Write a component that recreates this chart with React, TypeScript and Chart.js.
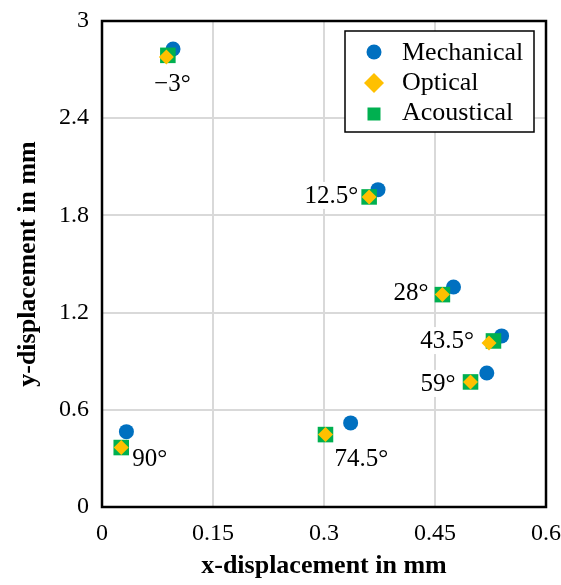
import React, { useEffect, useRef } from 'react';
import { Chart, registerables } from 'chart.js';

Chart.register(...registerables);

// ---- data ----
const angleLabels = ['−3°', '12.5°', '28°', '43.5°', '59°', '74.5°', '90°'];
const mechanicalX = [0.096, 0.373, 0.475, 0.54, 0.52, 0.336, 0.033];
const mechanicalY = [2.827, 1.959, 1.358, 1.056, 0.827, 0.519, 0.465];
const opticalX = [0.087, 0.361, 0.46, 0.523, 0.498, 0.302, 0.026];
const opticalY = [2.778, 1.914, 1.311, 1.012, 0.772, 0.447, 0.367];
const acousticalX = [0.089, 0.361, 0.46, 0.529, 0.498, 0.302, 0.026];
const acousticalY = [2.788, 1.914, 1.311, 1.025, 0.772, 0.447, 0.367];
const xTicks = [0, 0.15, 0.3, 0.45, 0.6];
const yTicks = [0, 0.6, 1.2, 1.8, 2.4, 3];
const seriesNames = ['Mechanical', 'Optical', 'Acoustical'];

// ---- styles / layout ----
const FONT = '"Liberation Serif", "Times New Roman", serif';
const BLUE = '#0070C0';
const YELLOW = '#FFC000';
const GREEN = '#00B050';
const labelPlacement = [
  { dx: 6, dy: 34, align: 'center' },
  { dx: -11, dy: 6, align: 'right' },
  { dx: -14, dy: 5, align: 'right' },
  { dx: -15, dy: 5, align: 'right' },
  { dx: -15, dy: 9, align: 'right' },
  { dx: 9, dy: 31, align: 'left' },
  { dx: 11, dy: 18, align: 'left' },
];

const toPts = (xs: number[], ys: number[]) => xs.map((x, i) => ({ x, y: ys[i] }));

const overlayPlugin = {
  id: 'overlay',
  beforeDatasetsDraw(chart: any) {
    const { ctx, chartArea, scales } = chart;
    const { left, top, right, bottom } = chartArea;
    ctx.save();
    ctx.font = `25px ${FONT}`;
    ctx.textBaseline = 'alphabetic';
    ctx.textAlign = 'left';
    angleLabels.forEach((t, i) => {
      const p = labelPlacement[i];
      const px = scales.x.getPixelForValue(opticalX[i]) + p.dx;
      const py = scales.y.getPixelForValue(opticalY[i]) + p.dy;
      const w = ctx.measureText(t).width;
      const lx = p.align === 'left' ? px : p.align === 'right' ? px - w : px - w / 2;
      ctx.fillStyle = '#fff';
      ctx.fillRect(lx - 3, py - 21, w + 6, 27);
      ctx.fillStyle = '#000';
      ctx.fillText(t, lx, py);
    });
    ctx.strokeStyle = '#000';
    ctx.lineWidth = 2.5;
    ctx.strokeRect(left, top, right - left, bottom - top);
    ctx.restore();
  },
  afterDraw(chart: any) {
    const { ctx } = chart;
    ctx.save();
    ctx.fillStyle = '#fff';
    ctx.fillRect(345, 31, 189, 101);
    ctx.strokeStyle = '#000';
    ctx.lineWidth = 1.5;
    ctx.strokeRect(345, 31, 189, 101);
    const mx = 374;
    const my = [52, 83, 114];
    const ty = [60, 90, 120];
    ctx.fillStyle = BLUE;
    ctx.beginPath();
    ctx.arc(mx, my[0], 7.5, 0, Math.PI * 2);
    ctx.fill();
    ctx.fillStyle = YELLOW;
    ctx.beginPath();
    ctx.moveTo(mx - 10, my[1]);
    ctx.lineTo(mx, my[1] - 10);
    ctx.lineTo(mx + 10, my[1]);
    ctx.lineTo(mx, my[1] + 10);
    ctx.closePath();
    ctx.fill();
    ctx.fillStyle = GREEN;
    ctx.fillRect(mx - 6.5, my[2] - 6.5, 13, 13);
    ctx.fillStyle = '#000';
    ctx.font = `26px ${FONT}`;
    ctx.textAlign = 'left';
    ctx.textBaseline = 'alphabetic';
    seriesNames.forEach((n, i) => ctx.fillText(n, 402, ty[i]));
    ctx.restore();
  },
};

export default function App() {
  const ref = useRef<HTMLCanvasElement>(null);
  useEffect(() => {
    if (!ref.current) return;
    const fmt = (v: any) => String(Number(Number(v).toFixed(2)));
    const chart = new Chart(ref.current, {
      type: 'scatter',
      data: {
        datasets: [
          {
            label: seriesNames[0],
            data: toPts(mechanicalX, mechanicalY),
            backgroundColor: BLUE,
            borderWidth: 0,
            pointStyle: 'circle',
            pointRadius: 7.5,
            order: 3,
          },
          {
            label: seriesNames[1],
            data: toPts(opticalX, opticalY),
            backgroundColor: YELLOW,
            borderWidth: 0,
            pointStyle: 'rectRot',
            pointRadius: 7.5,
            order: 1,
          },
          {
            label: seriesNames[2],
            data: toPts(acousticalX, acousticalY),
            backgroundColor: GREEN,
            borderWidth: 0,
            pointStyle: 'rect',
            pointRadius: 11,
            order: 2,
          },
        ],
      },
      options: {
        responsive: false,
        animation: false,
        devicePixelRatio: 1,
        layout: { padding: { left: 0, right: 15, top: 21, bottom: 0 } },
        plugins: { legend: { display: false }, tooltip: { enabled: false } },
        scales: {
          x: {
            type: 'linear',
            min: 0,
            max: 0.6,
            afterBuildTicks: (s: any) => {
              s.ticks = xTicks.map((value) => ({ value }));
            },
            afterFit: (s: any) => {
              s.height = 78;
              s.paddingLeft = 0;
              s.paddingRight = 0;
            },
            grid: { color: '#d9d9d9', lineWidth: 2, drawTicks: false },
            border: { display: false },
            ticks: { padding: 12, color: '#000', font: { family: FONT, size: 24 }, callback: fmt },
            title: {
              display: true,
              text: 'x-displacement in mm',
              color: '#000',
              font: { family: FONT, size: 26, weight: 'bold' },
              padding: { top: 0, bottom: 3 },
            },
          },
          y: {
            type: 'linear',
            min: 0,
            max: 3,
            afterBuildTicks: (s: any) => {
              s.ticks = yTicks.map((value) => ({ value }));
            },
            afterFit: (s: any) => {
              s.width = 102;
              s.paddingTop = 0;
              s.paddingBottom = 0;
            },
            grid: { color: '#d9d9d9', lineWidth: 2, drawTicks: false },
            border: { display: false },
            ticks: { padding: 13, color: '#000', font: { family: FONT, size: 24 }, callback: fmt },
            title: {
              display: true,
              text: 'y-displacement in mm',
              color: '#000',
              font: { family: FONT, size: 26, weight: 'bold' },
              padding: { top: 13, bottom: 0 },
            },
          },
        },
      } as any,
      plugins: [overlayPlugin],
    });
    return () => chart.destroy();
  }, []);
  return (
    <div style={{ position: 'absolute', left: 0, top: 0, width: 561, height: 585, background: '#fff' }}>
      <canvas ref={ref} width={561} height={585} style={{ display: 'block' }} />
    </div>
  );
}
